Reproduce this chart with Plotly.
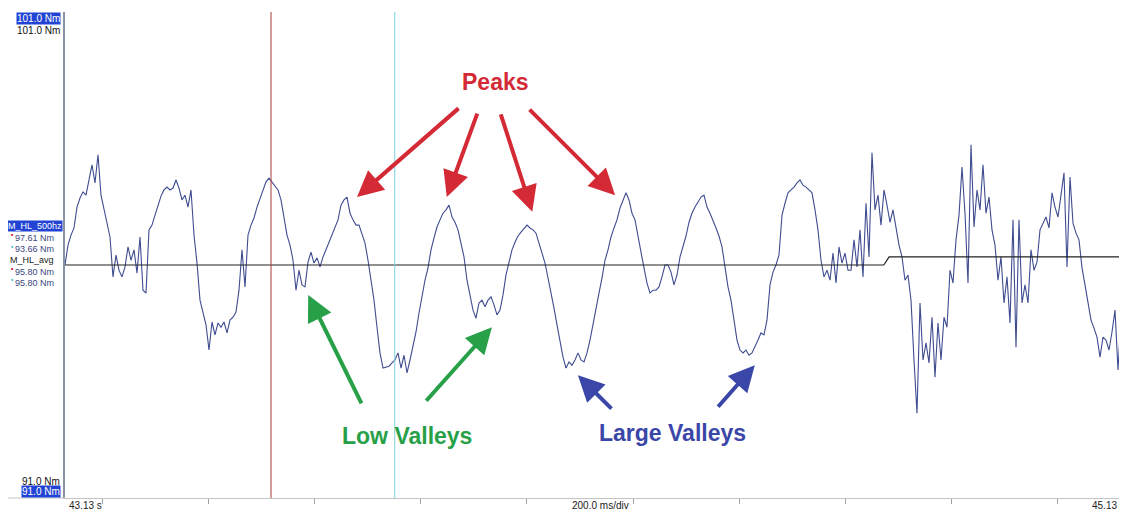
import numpy as np
import plotly.graph_objects as go

# ---- data ----
t_start, t_end = 43.13, 45.13          # s
torque = [
    95.80, 96.22, 96.43, 96.58, 97.02, 97.21, 97.34, 97.27, 97.59, 97.91,
    97.53, 98.12, 97.27, 96.96, 96.68, 96.39, 95.55, 96.01, 95.69, 95.55,
    95.76, 96.18, 95.90, 96.12, 95.63, 96.39, 95.27, 95.21, 96.54, 96.64,
    96.85, 97.06, 97.25, 97.38, 97.44, 97.38, 97.42, 97.59, 97.42, 97.17,
    97.27, 97.02, 97.38, 96.43, 95.84, 95.06, 94.79, 94.54, 94.01, 94.60,
    94.33, 94.58, 94.49, 94.60, 94.37, 94.64, 94.70, 94.81, 95.27, 96.12,
    95.34, 96.43, 96.64, 96.79, 97.02, 97.21, 97.38, 97.55, 97.63, 97.55,
    97.48, 97.38, 97.17, 96.79, 96.43, 96.22, 95.90, 95.27, 95.69, 95.38,
    95.34, 95.86, 96.07, 95.84, 95.95, 95.76, 95.97, 96.12, 96.28, 96.47,
    96.62, 96.75, 97.06, 97.17, 97.23, 96.89, 96.75, 96.64, 96.64, 96.43,
    96.26, 95.90, 95.48, 95.06, 94.49, 93.95, 93.63, 93.65, 93.67, 93.74,
    93.80, 93.95, 93.63, 93.90, 93.53, 93.80, 94.07, 94.39, 94.79, 95.17,
    95.48, 95.74, 96.12, 96.37, 96.60, 96.75, 96.89, 96.96, 97.06, 96.81,
    96.70, 96.54, 96.22, 95.97, 95.48, 95.13, 94.85, 94.68, 95.00, 95.06,
    94.92, 95.06, 95.13, 94.96, 94.75, 94.85, 95.17, 95.59, 95.84, 96.12,
    96.28, 96.41, 96.49, 96.56, 96.64, 96.58, 96.54, 96.47, 96.26, 96.05,
    95.84, 95.53, 95.23, 94.89, 94.54, 94.22, 93.86, 93.63, 93.76, 93.69,
    93.80, 93.95, 93.80, 93.76, 93.95, 94.22, 94.58, 94.89, 95.21, 95.53,
    95.90, 96.12, 96.39, 96.58, 96.75, 97.00, 97.17, 97.32, 97.17, 96.89,
    96.75, 96.37, 96.07, 95.74, 95.42, 95.21, 95.27, 95.27, 95.34, 95.55,
    95.80, 95.80, 95.65, 95.38, 95.59, 95.97, 96.18, 96.41, 96.70, 96.89,
    97.02, 97.13, 97.23, 97.27, 97.02, 96.89, 96.75, 96.58, 96.41, 96.18,
    95.76, 95.34, 95.06, 94.64, 94.22, 94.01, 93.95, 94.01, 93.90, 93.95,
    94.07, 94.22, 94.37, 94.33, 94.64, 95.38, 95.65, 95.80, 96.01, 96.85,
    97.10, 97.32, 97.38, 97.44, 97.53, 97.59, 97.48, 97.44, 97.38, 97.32,
    96.96, 96.54, 95.90, 95.55, 95.69, 95.48, 96.05, 95.42, 96.18, 95.84,
    96.05, 95.69, 95.69, 96.33, 95.76, 96.54, 95.55, 97.10, 95.97, 98.16,
    96.96, 97.27, 96.64, 97.38, 97.06, 96.70, 96.96, 96.54, 96.22, 95.97,
    95.48, 95.59, 95.06, 93.80, 92.68, 95.00, 93.80, 94.16, 93.74, 94.70,
    93.44, 94.58, 93.80, 94.70, 94.49, 95.69, 95.42, 96.33, 96.85, 97.86,
    96.89, 95.42, 98.33, 96.60, 97.38, 96.96, 97.91, 96.89, 97.23, 96.54,
    96.22, 95.48, 95.97, 95.00, 95.55, 94.58, 96.75, 94.07, 96.75, 95.00,
    95.38, 95.00, 96.12, 95.69, 95.86, 96.54, 96.68, 96.81, 96.58, 97.32,
    97.02, 96.81, 97.27, 97.74, 95.76, 97.65, 96.68, 96.47, 96.33, 95.74,
    95.38, 94.96, 94.64, 94.47, 94.28, 93.86, 94.28, 94.22, 94.01, 94.39,
    94.85, 93.59, 94.70, 95.00, 94.85,
]
times = np.linspace(t_start, t_end, len(torque))

avg_times = [43.13, 44.672, 44.682, 45.13]
avg_vals = [95.80, 95.80, 95.97, 95.97]

cursor_red_t = 43.518
cursor_cyan_t = 43.751
tick_times = [43.2, 43.4, 43.6, 43.8, 44.0, 44.2, 44.4, 44.6, 44.8, 45.0]

y_min, y_max = 90.895, 101.126

RED = "#d42a35"
GREEN = "#27a048"
BLUE = "#3a46a8"

fig = go.Figure()
fig.add_trace(go.Scatter(x=times, y=torque, mode="lines",
                         line=dict(color="#3f4c90", width=1.1),
                         hoverinfo="skip", showlegend=False))
fig.add_trace(go.Scatter(x=avg_times, y=avg_vals, mode="lines",
                         line=dict(color="#222222", width=1.2),
                         hoverinfo="skip", showlegend=False))

shapes = [
    dict(type="line", xref="x", yref="paper", x0=cursor_red_t, x1=cursor_red_t,
         y0=0, y1=1, line=dict(color="#a83a3a", width=1)),
    dict(type="line", xref="x", yref="paper", x0=cursor_cyan_t, x1=cursor_cyan_t,
         y0=0, y1=1, line=dict(color="#7cd0e0", width=1)),
    dict(type="line", xref="paper", yref="paper", x0=-0.054, x1=0, y0=0, y1=0,
         line=dict(color="#c4c4c4", width=1)),
]

ann = []
# Arrows (tip at data point, tail offset in pixels)
arrows = [
    (43.680, 97.23, 103, -90, RED), (43.849, 97.23, 31, -85, RED),
    (44.010, 96.92, -32, -99, RED), (44.166, 97.27, -87, -87, RED),
    (43.588, 95.17, 54, 110, GREEN), (43.934, 94.49, -67, 75, GREEN),
    (44.096, 93.48, 35, 35, BLUE), (44.429, 93.69, -38, 43, BLUE),
]
for x, y, ax, ay, c in arrows:
    ann.append(dict(x=x, y=y, xref="x", yref="y", ax=ax, ay=ay, text="",
                    showarrow=True, arrowhead=2, arrowsize=1.3, arrowwidth=4,
                    arrowcolor=c, standoff=0))

big = dict(family="Liberation Sans, Arial, sans-serif", size=23)
for text, x, y, c in [("Peaks", 0.4049, 0.856, RED),
                      ("Low Valleys", 0.322, 0.128, GREEN),
                      ("Large Valleys", 0.5725, 0.134, BLUE)]:
    ann.append(dict(x=x, y=y, xref="paper", yref="paper", text="<b>%s</b>" % text,
                    showarrow=False, xanchor="center", yanchor="middle",
                    font=dict(color=c, **big)))

sm = "Liberation Sans, Arial, sans-serif"
def lab(text, py, color="#111111", size=10, bg=None, xr=-0.0038, anchor="right", xx=None):
    d = dict(x=xr if xx is None else xx, y=(498 - py) / 486, xref="paper", yref="paper",
             text=text, showarrow=False, xanchor=anchor, yanchor="middle",
             font=dict(family=sm, size=size, color=color), borderpad=0)
    if bg:
        d["bgcolor"] = bg
    ann.append(d)

HL = "#2244d4"
lab("101.0 Nm", 18, color="white", bg=HL)
lab("101.0 Nm", 31)
lab("M_HL_500hz", 226, color="white", size=9, bg=HL, xr=-0.002)
lab("97.61 Nm", 238, color="#3a4680", size=9, xr=-0.0094)
lab("93.66 Nm", 249, color="#3a4680", size=9, xr=-0.0094)
lab("M_HL_avg", 260, color="#222222", size=9, xr=-0.0094)
lab("95.80 Nm", 272, color="#3a4680", size=9, xr=-0.0094)
lab("95.80 Nm", 283, color="#3a4680", size=9, xr=-0.0094)
lab("91.0 Nm", 481)
lab("91.0 Nm", 491, color="white", bg=HL)
for py, c in [(234, RED), (246, "#5cc8d8"), (268, RED), (279, "#5cc8d8")]:
    lab("■", py, color=c, size=4, xx=-0.0515, anchor="left")

# bottom bar texts
for text, x, anchor in [("43.13 s", 0.0019, "left"), ("200.0 ms/div", 0.5047, "center"),
                        ("45.13 s", 1.0, "right")]:
    ann.append(dict(x=x, y=-0.0155, xref="paper", yref="paper", text=text,
                    showarrow=False, xanchor=anchor, yanchor="middle",
                    font=dict(family=sm, size=10, color="#222222")))

# The page body has an 8px default margin; size the figure so the plot area
# lands where the reference's does inside the 1127x512 window.
fig.update_layout(
    width=1119, height=504,
    margin=dict(l=57, r=0, t=4, b=14),
    paper_bgcolor="white", plot_bgcolor="white",
    shapes=shapes, annotations=ann,
    xaxis=dict(range=[t_start, t_end], showgrid=False, zeroline=False,
               showline=True, linecolor="#c4c4c4", linewidth=1,
               ticks="outside", ticklen=5, tickcolor="#a0a0a0", tickwidth=1,
               tickvals=tick_times, showticklabels=False, fixedrange=True),
    yaxis=dict(range=[y_min, y_max], showgrid=False, zeroline=False,
               showline=True, linecolor="#8a92a8", linewidth=2,
               showticklabels=False, ticks="", fixedrange=True),
    showlegend=False,
)

fig.write_html("out.html")
